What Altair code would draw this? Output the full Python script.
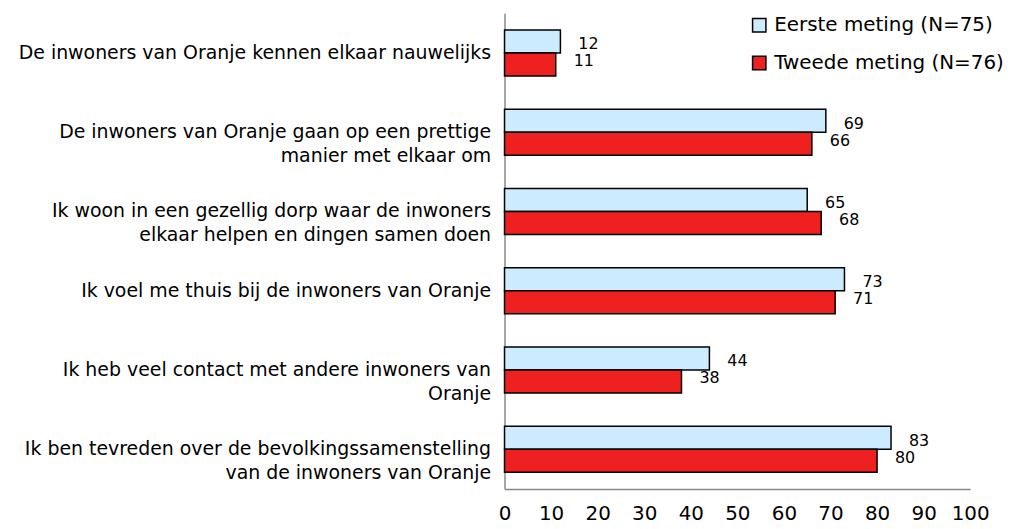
import altair as alt
import pandas as pd

categories = [
    "De inwoners van Oranje kennen elkaar nauwelijks",
    "De inwoners van Oranje gaan op een prettige|manier met elkaar om",
    "Ik woon in een gezellig dorp waar de inwoners|elkaar helpen en dingen samen doen",
    "Ik voel me thuis bij de inwoners van Oranje",
    "Ik heb veel contact met andere inwoners van|Oranje",
    "Ik ben tevreden over de bevolkingssamenstelling|van de inwoners van Oranje",
]
series = ["Eerste meting (N=75)", "Tweede meting (N=76)"]
eerste = [12, 69, 65, 73, 44, 83]
tweede = [11, 66, 68, 71, 38, 80]
colors = ["#CCEBFF", "#EE2020"]

rows = []
for c, a, b in zip(categories, eerste, tweede):
    rows.append({"cat": c, "meting": series[0], "value": a})
    rows.append({"cat": c, "meting": series[1], "value": b})
df = pd.DataFrame(rows)

FONT = "DejaVu Sans"

y_enc = alt.Y("cat:N", sort=categories,
              scale=alt.Scale(paddingInner=0.42, paddingOuter=0.21),
              axis=alt.Axis(title=None, labelExpr="split(datum.label, '|')",
                            labelFontSize=19, labelFont=FONT, labelColor="#000",
                            labelPadding=14, ticks=False, domainColor="#888",
                            domainWidth=1.5, labelLimit=600, labelLineHeight=24))
x_enc = alt.X("value:Q", scale=alt.Scale(domain=[0, 100], nice=False),
              axis=alt.Axis(title=None, values=list(range(0, 101, 10)), grid=False,
                            ticks=False, labelFontSize=20, labelFont=FONT,
                            labelColor="#000", labelPadding=15, labelFlush=False,
                            labelOverlap=False, domainColor="#888", domainWidth=1.5))
yoff = alt.YOffset("meting:N", sort=series)

bars = alt.Chart(df).mark_bar(stroke="black", strokeWidth=1.5).encode(
    y=y_enc, x=x_enc, yOffset=yoff,
    color=alt.Color("meting:N", sort=series,
                    scale=alt.Scale(domain=series, range=colors),
                    legend=alt.Legend(title=None, orient="none", legendX=246, legendY=2,
                                      symbolType="square", symbolSize=180,
                                      symbolStrokeColor="black", symbolStrokeWidth=1.5,
                                      labelFontSize=20, labelFont=FONT, labelColor="#000",
                                      rowPadding=18, labelOffset=5, labelLimit=400)),
)

lab1 = alt.Chart(df).transform_filter(alt.datum.meting == series[0]).mark_text(
    align="left", baseline="middle", dx=18, dy=3, fontSize=16, font=FONT, color="#000"
).encode(y=y_enc, x=x_enc, yOffset=yoff, text="value:Q")
lab2 = alt.Chart(df).transform_filter(alt.datum.meting == series[1]).mark_text(
    align="left", baseline="middle", dx=18, dy=-3, fontSize=16, font=FONT, color="#000"
).encode(y=y_enc, x=x_enc, yOffset=yoff, text="value:Q")

chart = alt.layer(bars, lab1, lab2).properties(
    width=468, height=478,
    autosize=alt.AutoSizeParams(type="none"),
    padding={"left": 499, "top": 4, "right": 40, "bottom": 39},
).configure_view(stroke=None)

chart.save("out.html", embed_options={"renderer": "svg", "actions": False})
